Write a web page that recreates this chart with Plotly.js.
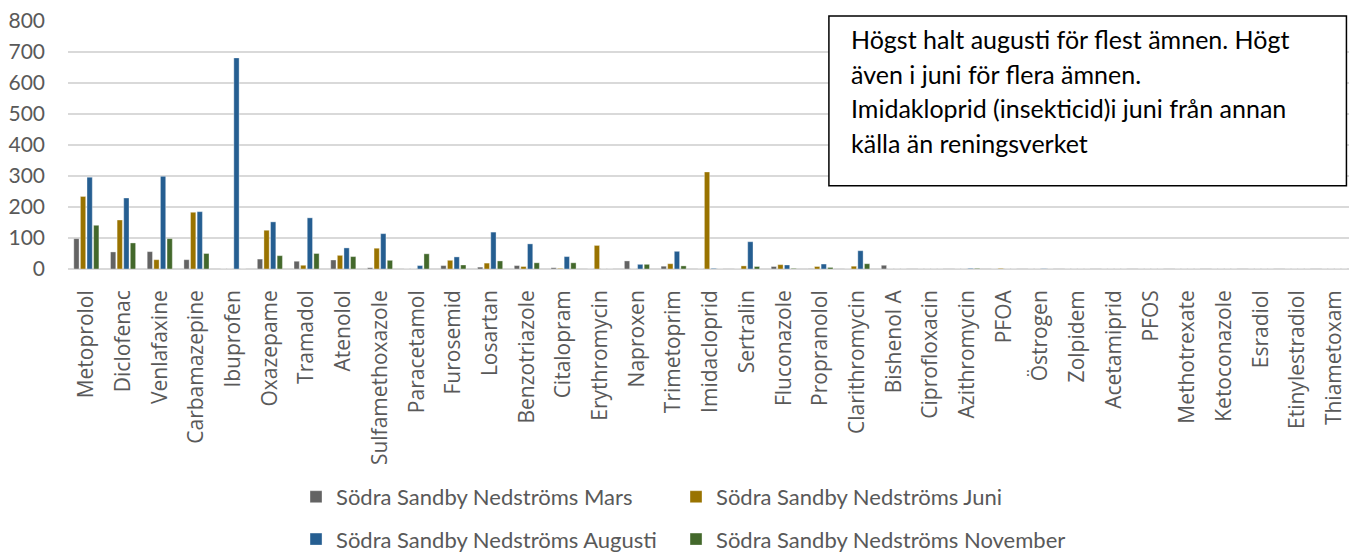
<!DOCTYPE html>
<html>
<head>
<meta charset="utf-8">
<script src="https://cdn.plot.ly/plotly-3.0.1.min.js"></script>
<style>
  html, body { margin: 0; padding: 0; background: #fff; }
  #chart { width: 1349px; height: 555px; }
</style>
</head>
<body>
<div id="chart"></div>
<script>
const categories = ["Metoprolol","Diclofenac","Venlafaxine","Carbamazepine","Ibuprofen","Oxazepame","Tramadol","Atenolol","Sulfamethoxazole","Paracetamol","Furosemid","Losartan","Benzotriazole","Citalopram","Erythromycin","Naproxen","Trimetoprim","Imidacloprid","Sertralin","Fluconazole","Propranolol","Clarithromycin","Bishenol A","Ciprofloxacin","Azithromycin","PFOA","Östrogen","Zolpidem","Acetamiprid","PFOS","Methotrexate","Ketoconazole","Esradiol","Etinylestradiol","Thiametoxam"];

const mars     = [98,55,56,30,0,32,25,29,4,0,11,6,11,4,0,26,9,0,0,8,1,0,12,0,0,0,0,0,0,0,0,0,0,0,0];
const juni     = [234,158,30,183,0,125,12,44,67,0,28,19,8,2,76,0,17,313,10,14,8,9,0,0,0,2,0,0,0,0,0,0,0,0,0];
const augusti  = [296,229,299,185,681,152,165,68,114,11,39,119,81,40,0,15,57,2,88,13,16,59,0,0,2,0,1,0,0,0,0,0,0,0,0];
const november = [141,84,98,50,0,43,50,40,28,49,13,26,20,20,0,15,10,0,8,2,5,17,0,0,2,0,0,0,0,0,0,0,0,0,0];

const seriesNames = ["Södra Sandby Nedströms Mars","Södra Sandby Nedströms Juni","Södra Sandby Nedströms Augusti","Södra Sandby Nedströms November"];
const seriesColors = ["#636363","#997300","#255E91","#43682B"];
const seriesData = [mars, juni, augusti, november];
const legendIds = ["legend","legend","legend2","legend2"];

const noteLines = [
  "Högst halt augusti för flest ämnen. Högt",
  "även i juni för flera ämnen.",
  "Imidakloprid (insekticid)i juni från annan",
  "källa än reningsverket"
];

const traces = seriesData.map((vals, i) => ({
  type: "bar",
  name: seriesNames[i],
  x: categories,
  y: vals,
  marker: { color: seriesColors[i], line: { color: "rgba(255,255,255,0.6)", width: 0.6 } },
  legend: legendIds[i],
  legendwidth: i === 3 ? 380 : 335,
  hoverinfo: "x+y+name"
}));

const legendFont = { family: "Lato, 'Open Sans', sans-serif", size: 22, color: "#595959" };

// plot area: top 21px, height 248px
const lineCentersPx = [39, 73.5, 108, 142.5];
const noteAnnotations = noteLines.map((t, i) => ({
  xref: "paper", yref: "paper",
  x: 0.610, xanchor: "left",
  y: (269 - lineCentersPx[i]) / 248, yanchor: "middle",
  align: "left",
  showarrow: false,
  text: t,
  font: { family: "Lato, 'Open Sans', sans-serif", size: 25, color: "#000000" }
}));

const layout = {
  width: 1349,
  height: 555,
  margin: { l: 68, r: 0, t: 21, b: 286, autoexpand: false },
  paper_bgcolor: "#ffffff",
  plot_bgcolor: "#ffffff",
  barmode: "group",
  bargap: 0.28,
  bargroupgap: 0.2,
  showlegend: true,
  xaxis: {
    type: "category",
    range: [-0.5, 34.4],
    tickangle: -90,
    tickfont: { family: "'Open Sans', sans-serif", size: 21, color: "#595959" },
    ticks: "",
    showgrid: false,
    showline: false,
    ticklabelstandoff: 16,
    fixedrange: true
  },
  yaxis: {
    range: [0, 800],
    dtick: 100,
    tickfont: { family: "Lato, 'Open Sans', sans-serif", size: 21, color: "#595959" },
    gridcolor: "#D9D9D9",
    gridwidth: 1.5,
    zeroline: true,
    zerolinecolor: "#D9D9D9",
    zerolinewidth: 1.5,
    showline: false,
    ticks: "",
    ticklabelstandoff: 22,
    fixedrange: true
  },
  legend: {
    orientation: "h",
    x: 0.178, xanchor: "left",
    y: -0.919, yanchor: "middle",
    entrywidth: 335,
    entrywidthmode: "pixels",
    font: legendFont,
    bgcolor: "rgba(0,0,0,0)"
  },
  legend2: {
    orientation: "h",
    x: 0.178, xanchor: "left",
    y: -1.090, yanchor: "middle",
    entrywidth: 335,
    entrywidthmode: "pixels",
    font: legendFont,
    bgcolor: "rgba(0,0,0,0)"
  },
  shapes: [{
    type: "rect",
    xref: "paper", yref: "paper",
    x0: 0.594, x1: 0.998,
    y0: 0.336, y1: 1.020,
    line: { color: "#000000", width: 1.5 },
    fillcolor: "#ffffff",
    layer: "above"
  }],
  annotations: noteAnnotations
};

Plotly.newPlot("chart", traces, layout, { displayModeBar: false, staticPlot: true });
</script>
</body>
</html>
